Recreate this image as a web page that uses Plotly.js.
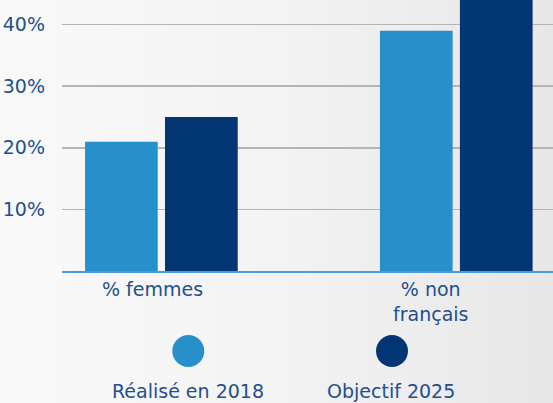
<!DOCTYPE html>
<html>
<head>
<meta charset="utf-8">
<script src="https://cdn.plot.ly/plotly-3.0.1.min.js"></script>
<style>
  html, body { margin: 0; padding: 0; }
  body { width: 553px; height: 403px; overflow: hidden;
         background: linear-gradient(to right, #f9f9f9 0%, #f3f3f3 50%, #e7e7e7 100%); }
  #chart { width: 553px; height: 403px; }
</style>
</head>
<body>
<div id="chart"></div>
<script>
// ---- data ----
const categories = ['% femmes', '% non<br>français'];
const seriesNames = ['Réalisé en 2018', 'Objectif 2025'];
const realise2018 = [21, 39];
const objectif2025 = [25, 45];
const yTickVals = [10, 20, 30, 40];
const yTickText = ['10%', '20%', '30%', '40%'];

// ---- styles ----
const colors = ['#2790cb', '#023574'];
const textColor = '#234f8d';
const fontFamily = 'DejaVu Sans, sans-serif';
const fontSize = 19;

const traces = [realise2018, objectif2025].map((vals, i) => ({
  type: 'bar',
  x: categories,
  y: vals,
  name: seriesNames[i],
  marker: { color: colors[i], line: { width: 0 } },
  hoverinfo: 'skip',
  showlegend: false
}));

// category labels, shifted as in the reference
const catShift = [-9, -26];
const annotations = categories.map((c, i) => ({
  x: c, xref: 'x', y: 0, yref: 'paper',
  xanchor: 'center', yanchor: 'top', yshift: -5, xshift: catShift[i],
  text: c, showarrow: false, align: 'center',
  font: { family: fontFamily, size: fontSize, color: textColor }
}));

// custom legend: circles above labels
const legendX = [0.2572, 0.6721];
const legendTextX = [0.2564, 0.6701];
const shapes = seriesNames.map((n, i) => ({
  type: 'circle', xref: 'paper', yref: 'paper',
  xsizemode: 'pixel', ysizemode: 'pixel',
  xanchor: legendX[i], yanchor: -0.2954,
  x0: -16, x1: 16, y0: -16, y1: 16,
  fillcolor: colors[i], line: { width: 0 }
}));
seriesNames.forEach((n, i) => annotations.push({
  x: legendTextX[i], xref: 'paper', y: -0.442, yref: 'paper',
  xanchor: 'center', yanchor: 'middle',
  text: n, showarrow: false,
  font: { family: fontFamily, size: fontSize, color: textColor }
}));

const layout = {
  width: 553, height: 403,
  margin: { l: 62, r: 0, t: 0, b: 131.5, pad: 0 },
  paper_bgcolor: 'rgba(0,0,0,0)',
  plot_bgcolor: 'rgba(0,0,0,0)',
  barmode: 'group',
  bargap: 0.4576,
  bargroupgap: 0.091,
  showlegend: false,
  font: { family: fontFamily, size: fontSize, color: textColor },
  xaxis: {
    type: 'category',
    range: [-0.337, 1.328],
    showticklabels: false,
    showgrid: false, zeroline: false,
    showline: true, linecolor: '#4a9bd8', linewidth: 2,
    ticks: ''
  },
  yaxis: {
    range: [0, 44],
    tickvals: yTickVals, ticktext: yTickText,
    showgrid: true, gridcolor: '#b4b4b4', gridwidth: 1.5,
    zeroline: false, showline: false,
    ticks: '', ticklabelstandoff: 16,
    tickfont: { family: fontFamily, size: fontSize, color: textColor }
  },
  shapes: shapes,
  annotations: annotations
};

Plotly.newPlot('chart', traces, layout, { displayModeBar: false, staticPlot: true });
</script>
</body>
</html>
